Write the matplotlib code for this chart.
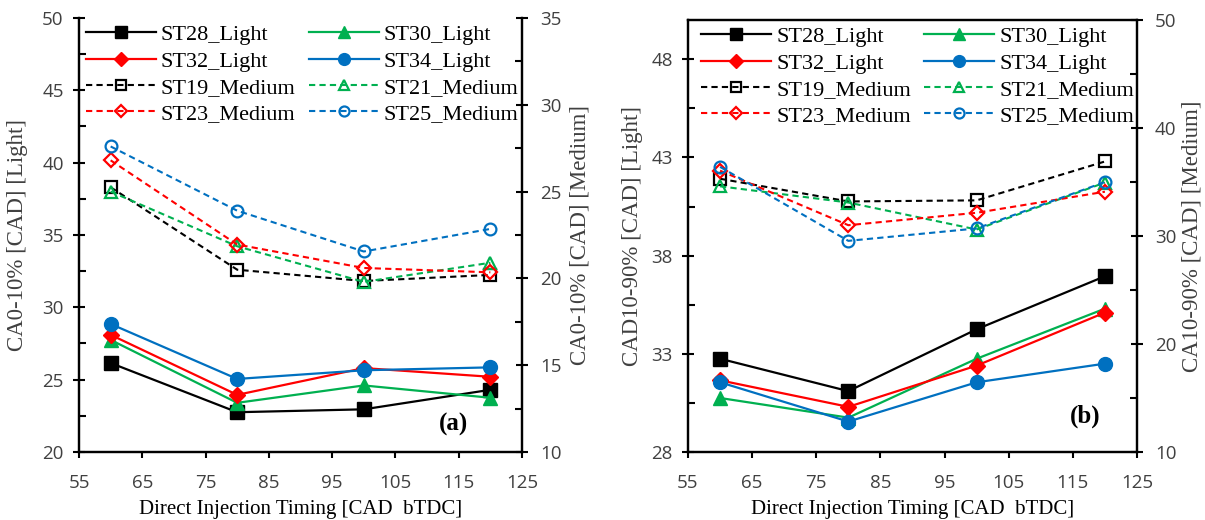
import matplotlib
matplotlib.use("Agg")
import matplotlib.pyplot as plt
from matplotlib.ticker import FixedLocator

timing = [60, 80, 100, 120]

# Panel (a): CA0-10%
a_light = {
    "ST28_Light": [26.15, 22.75, 22.95, 24.3],
    "ST30_Light": [27.75, 23.4, 24.6, 23.75],
    "ST32_Light": [28.1, 23.95, 25.8, 25.2],
    "ST34_Light": [28.85, 25.05, 25.65, 25.85],
}
a_medium = {
    "ST19_Medium": [25.25, 20.5, 19.85, 20.2],
    "ST21_Medium": [25.0, 21.85, 19.8, 20.9],
    "ST23_Medium": [26.8, 21.95, 20.6, 20.35],
    "ST25_Medium": [27.6, 23.9, 21.55, 22.85],
}
# Panel (b): CA10-90%
b_light = {
    "ST28_Light": [32.75, 31.1, 34.25, 36.95],
    "ST30_Light": [30.75, 29.75, 32.75, 35.3],
    "ST32_Light": [31.65, 30.3, 32.4, 35.1],
    "ST34_Light": [31.55, 29.55, 31.55, 32.5],
}
b_medium = {
    "ST19_Medium": [35.3, 33.2, 33.3, 36.9],
    "ST21_Medium": [34.6, 33.1, 30.6, 34.95],
    "ST23_Medium": [36.05, 31.0, 32.15, 34.1],
    "ST25_Medium": [36.4, 29.55, 30.7, 35.0],
}

colors = {"ST28": "#000000", "ST30": "#00B050", "ST32": "#FF0000", "ST34": "#0070C0",
          "ST19": "#000000", "ST21": "#00B050", "ST23": "#FF0000", "ST25": "#0070C0"}
markers = {"ST28": "s", "ST30": "^", "ST32": "D", "ST34": "o",
           "ST19": "s", "ST21": "^", "ST23": "D", "ST25": "o"}
msize = {"s": 9.5, "^": 10, "D": 8, "o": 10}
msize_open = {"s": 8, "^": 9, "D": 7, "o": 8.5}

SERIF = ["Liberation Serif", "DejaVu Serif"]
SANS = ["Open Sans", "DejaVu Sans"]
TICKC = "#404040"

fig = plt.figure(figsize=(12.05, 5.2), dpi=100)


def style_axis(ax, ypad):
    ax.tick_params(axis="y", which="major", direction="inout", length=8, width=1.5,
                   labelsize=13.5, labelcolor=TICKC, pad=ypad)
    ax.tick_params(axis="y", which="minor", direction="in", length=5, width=1.5)
    ax.tick_params(axis="x", which="major", direction="out", length=4.5, width=1.5,
                   labelsize=13.5, labelcolor=TICKC, pad=11)
    for lab in ax.get_xticklabels() + ax.get_yticklabels():
        lab.set_family(SANS)
    for s in ax.spines.values():
        s.set_linewidth(1.6)


def panel(rect, light, medium, ylim1, yticks1, ylim2, yticks2, minor1, minor2,
          ylab1, ylab2, lab_x, tag, tagpos, top_spine, leg_x):
    ax = fig.add_axes(rect)
    ax2 = ax.twinx()
    handles = {}
    for name, vals in light.items():
        k = name[:4]
        h, = ax.plot(timing, vals, color=colors[k], marker=markers[k],
                     markersize=msize[markers[k]], linewidth=1.6, label=name,
                     markeredgecolor=colors[k], markerfacecolor=colors[k], clip_on=False)
        handles[name] = h
    for name, vals in medium.items():
        k = name[:4]
        h, = ax2.plot(timing, vals, color=colors[k], marker=markers[k],
                      markersize=msize_open[markers[k]], linewidth=1.5, dashes=(3, 2),
                      markerfacecolor="none", markeredgewidth=1.6,
                      markeredgecolor=colors[k], label=name, clip_on=False)
        handles[name] = h
    ax.set_xlim(55, 125)
    ax.xaxis.set_major_locator(FixedLocator(list(range(55, 126, 10))))
    ax.set_ylim(*ylim1)
    ax.yaxis.set_major_locator(FixedLocator(yticks1))
    ax.yaxis.set_minor_locator(FixedLocator(minor1))
    ax2.set_ylim(*ylim2)
    ax2.yaxis.set_major_locator(FixedLocator(yticks2))
    ax2.yaxis.set_minor_locator(FixedLocator(minor2))
    style_axis(ax, 7)
    style_axis(ax2, 9)
    for a in (ax, ax2):
        a.spines["top"].set_visible(top_spine)
    ax.set_xlabel("Direct Injection Timing [CAD  bTDC]", family=SERIF, fontsize=15,
                  labelpad=6)
    ax.set_ylabel(ylab1, family=SERIF, fontsize=16.5, color="#404040")
    ax2.set_ylabel(ylab2, family=SERIF, fontsize=16.5, color="#404040")
    ax.yaxis.set_label_coords(lab_x[0], 0.5)
    ax2.yaxis.set_label_coords(lab_x[1], 0.5)
    ax2.text(tagpos[0], tagpos[1], tag, transform=ax.transData, family=SERIF,
             fontsize=18, fontweight="bold", ha="center", va="center")
    order = ["ST28_Light", "ST32_Light", "ST19_Medium", "ST23_Medium",
             "ST30_Light", "ST34_Light", "ST21_Medium", "ST25_Medium"]
    ax2.legend([handles[n] for n in order], order, ncol=2, frameon=False,
               loc="upper left", bbox_to_anchor=(leg_x, 1.0),
               prop={"family": SERIF, "size": 16}, handlelength=3.15,
               handletextpad=0.22, columnspacing=0.6, labelspacing=0.26,
               markerscale=0.85, borderaxespad=0.1, borderpad=0.2)
    return ax, ax2


panel([79 / 1205, 68 / 520, 443 / 1205, 434 / 520], a_light, a_medium,
      (20, 50), [20, 25, 30, 35, 40, 45, 50], (10, 35), [10, 15, 20, 25, 30, 35],
      [22.5, 27.5, 32.5, 37.5, 42.5, 47.5], [12.5, 17.5, 22.5, 27.5, 32.5],
      "CA0-10% [CAD] [Light]", "CA0-10% [CAD] [Medium]", (-0.115, 1.108),
      "(a)", (114.2, 21.9), False, 0.0)

panel([688 / 1205, 68 / 520, 449 / 1205, 432 / 520], b_light, b_medium,
      (28, 50), [28, 33, 38, 43, 48], (10, 50), [10, 20, 30, 40, 50],
      [30.5, 35.5, 40.5, 45.5], [15, 25, 35, 45],
      "CAD10-90% [CAD] [Light]", "CA10-90% [CAD] [Medium]", (-0.100, 1.100),
      "(b)", (116.9, 29.8), True, 0.015)

fig.savefig("out.png", dpi=100)
